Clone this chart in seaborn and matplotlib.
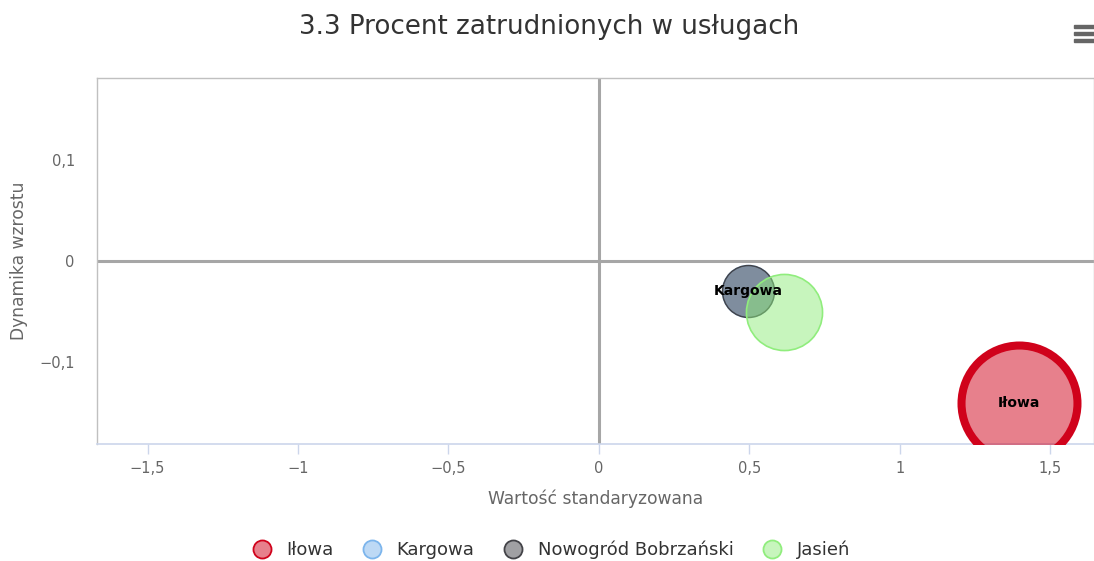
import matplotlib
matplotlib.use("Agg")
import matplotlib.pyplot as plt
import seaborn as sns
import pandas as pd
from matplotlib.colors import to_rgba
from matplotlib.lines import Line2D
from matplotlib.patches import Rectangle
from matplotlib.ticker import FuncFormatter

# --- data ---
names = ["Iłowa", "Kargowa", "Nowogród Bobrzański", "Jasień"]
x_std = [1.395, 0.495, 0.495, 0.615]
y_dyn = [-0.140, -0.030, -0.030, -0.050]
z_size = [5.0, 1.0, 1.0, 2.15]
labelled = ["Iłowa", "Kargowa"]

x_ticks = [-1.5, -1.0, -0.5, 0.0, 0.5, 1.0, 1.5]
y_ticks = [-0.1, 0.0, 0.1]

colors = {"Iłowa": "#d0021b", "Kargowa": "#7cb5ec",
          "Nowogród Bobrzański": "#434348", "Jasień": "#90ed7d"}
edge_w = {"Iłowa": 5.8, "Kargowa": 1.0,
          "Nowogród Bobrzański": 1.0, "Jasień": 1.2}

df = pd.DataFrame({"name": names, "x": x_std, "y": y_dyn, "z": z_size})

sns.set_theme(style="white")
plt.rcParams["font.family"] = ["DejaVu Sans"]

fig = plt.figure(figsize=(10.94, 5.61), dpi=100)
ax = fig.add_axes([97 / 1094, 1 - 444 / 561, 1 - 97 / 1094, (444 - 78) / 561])

ax.axvline(0, color="#a6a6a6", lw=2.2, zorder=1)
ax.axhline(0, color="#a6a6a6", lw=2.2, zorder=1)

# one call per series so the drawing order matches the reference
for n in names:
    sub = df[df["name"] == n]
    sns.scatterplot(data=sub, x="x", y="y", size="z", sizes=(1400, 6970),
                    size_norm=(min(z_size), max(z_size)),
                    color=to_rgba(colors[n], 0.5), edgecolor=colors[n],
                    linewidth=edge_w[n], legend=False, ax=ax, zorder=3)

for n, xv, yv in zip(names, x_std, y_dyn):
    if n in labelled:
        ax.text(xv, yv, n, ha="center", va="center", fontsize=10,
                fontweight="bold", color="black", zorder=5)

ax.set_xlim(-1.668, 1.645)
ax.set_ylim(-0.181, 0.181)

fmt = FuncFormatter(lambda v, p: ("%g" % v).replace(".", ",").replace("-", "\u2212"))
ax.set_xticks(x_ticks)
ax.set_yticks(y_ticks)
ax.xaxis.set_major_formatter(fmt)
ax.yaxis.set_major_formatter(fmt)
ax.tick_params(axis="x", bottom=True, length=7, width=1, color="#ccd6eb",
               labelsize=10.5, labelcolor="#666666", pad=5)
ax.tick_params(axis="y", left=False, length=0, labelsize=10.5,
               labelcolor="#666666", pad=16)

for s in ["top", "left", "right"]:
    ax.spines[s].set_color("#c0c0c0")
    ax.spines[s].set_linewidth(1)
ax.spines["bottom"].set_color("#ccd6eb")
ax.spines["bottom"].set_linewidth(1.2)

ax.set_xlabel("Wartość standaryzowana", fontsize=12.3, color="#666666", labelpad=10)
ax.set_ylabel("Dynamika wzrostu", fontsize=12.3, color="#666666", labelpad=8)

fig.text(0.502, 1 - 27 / 561, "3.3 Procent zatrudnionych w usługach",
         ha="center", va="center", fontsize=18.8, color="#333333")

# legend
handles = [Line2D([0], [0], marker="o", linestyle="none", markersize=13,
                  markerfacecolor=to_rgba(colors[n], 0.5),
                  markeredgecolor=colors[n], markeredgewidth=1.3)
           for n in names]
leg = fig.legend(handles, names, loc="center", bbox_to_anchor=(0.5, 1 - 550 / 561),
                 ncol=4, frameon=False, fontsize=13, handletextpad=0.35,
                 columnspacing=1.15)
for t in leg.get_texts():
    t.set_color("#333333")

# export menu icon
for yy in (25, 32, 39):
    fig.patches.append(Rectangle((1074 / 1094, 1 - (yy + 3) / 561), 20 / 1094, 3 / 561,
                                 transform=fig.transFigure, color="#666666"))

fig.savefig("out.png", dpi=100)
